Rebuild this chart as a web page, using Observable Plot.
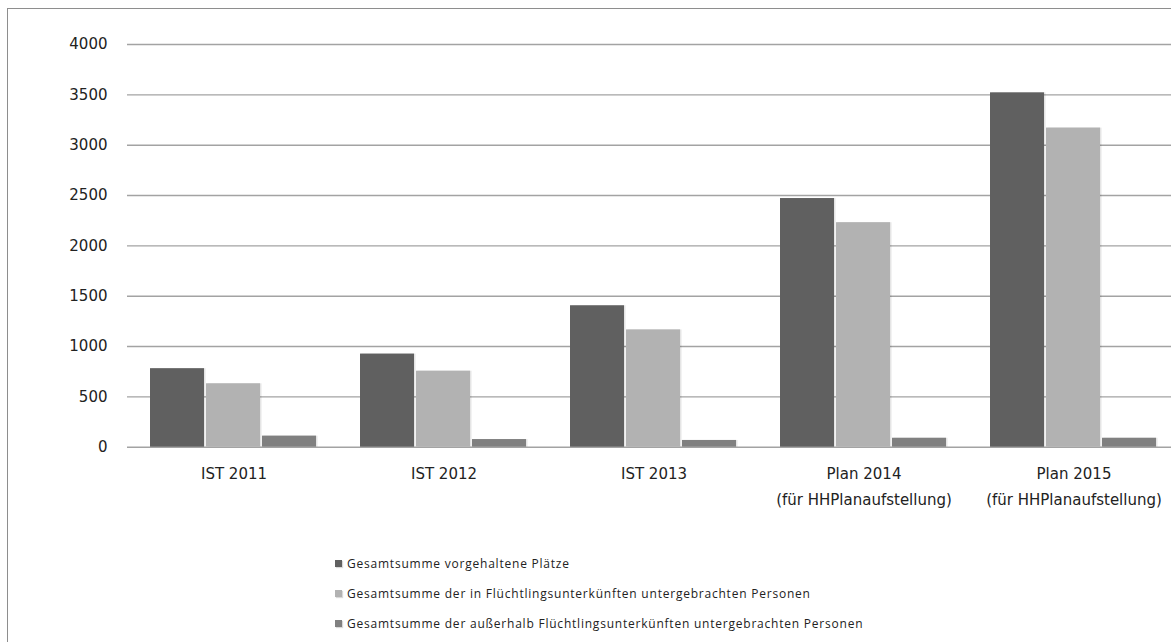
<!DOCTYPE html>
<html>
<head>
<meta charset="utf-8">
<script src="https://cdn.jsdelivr.net/npm/d3@7"></script>
<script src="https://cdn.jsdelivr.net/npm/@observablehq/plot@0.6"></script>
<style>
  body { margin: 0; background: #fff; }
  #wrap { position: relative; width: 1171px; height: 642px; overflow: hidden; background: #fff; }
  #frame { position: absolute; left: 7px; top: 8px; right: -5px; bottom: -5px; border-left: 1px solid #8e8e8e; border-top: 1px solid #8e8e8e; }
  #grid, #bars { position: absolute; left: 0; top: 0; }
  #legend { position: absolute; left: 335px; top: 548px; font-family: "Open Sans", sans-serif; font-size: 12px; letter-spacing: 0.78px; color: #222; }
  .item { height: 30px; display: flex; align-items: center; }
  .sw { width: 7px; height: 7px; margin-right: 5px; box-shadow: 1px 1px 1px rgba(0,0,0,0.15); }
</style>
</head>
<body>
<div id="wrap">
  <div id="frame"></div>
  <div id="grid"></div>
  <div id="bars"></div>
  <div id="legend"></div>
</div>
<script>
// ---- data ----
const categories = [
  "IST 2011",
  "IST 2012",
  "IST 2013",
  "Plan 2014\n(für HHPlanaufstellung)",
  "Plan 2015\n(für HHPlanaufstellung)"
];
const series = [
  "Gesamtsumme vorgehaltene Plätze",
  "Gesamtsumme der in Flüchtlingsunterkünften untergebrachten Personen",
  "Gesamtsumme der außerhalb Flüchtlingsunterkünften untergebrachten Personen"
];
const vorgehalten = [780, 925, 1405, 2470, 3520];
const innerhalb   = [630, 755, 1165, 2230, 3170];
const ausserhalb  = [110, 76, 67, 89, 89];
const yTicks = [0, 500, 1000, 1500, 2000, 2500, 3000, 3500, 4000];
const colors = ["#606060", "#b2b2b2", "#808080"];

const seriesValues = [vorgehalten, innerhalb, ausserhalb];
const rows = categories.flatMap((c, i) =>
  series.map((s, j) => ({ category: c, series: s, value: seriesValues[j][i] }))
);

const W = 1171, H = 540, zeroY = 446.7, topY = 44;

// ---- grid + y axis layer ----
const grid = Plot.plot({
  width: W, height: H,
  marginLeft: 127, marginRight: 0, marginTop: topY, marginBottom: H - zeroY,
  style: { background: "transparent", fontFamily: "DejaVu Sans", fontSize: "15px", color: "#222" },
  y: { domain: [0, 4000], ticks: yTicks, tickSize: 0, tickPadding: 20, tickFormat: d3.format("d"), label: null },
  marks: [
    Plot.ruleY(yTicks, { stroke: "#a3a3a3", strokeWidth: 1.4 })
  ]
});
document.getElementById("grid").appendChild(grid);

// ---- bars layer ----
const bars = Plot.plot({
  width: W, height: H,
  marginLeft: 128, marginRight: -7, marginTop: topY, marginBottom: H - zeroY,
  style: { background: "transparent", fontFamily: "DejaVu Sans", fontSize: "15px", color: "#222" },
  fx: { domain: categories, paddingInner: 0.205, paddingOuter: 0.1025, axis: null },
  x: { domain: series, paddingInner: 0.03, paddingOuter: 0, axis: null },
  y: { domain: [0, 4000], axis: null },
  color: { domain: series, range: colors },
  marks: [
    Plot.barY(rows, { fx: "category", x: "series", y: "value", fill: "#000", fillOpacity: 0.10, dx: 1.5 }),
    Plot.barY(rows, { fx: "category", x: "series", y: "value", fill: "series" }),
    Plot.text(categories, {
      fx: d => d, text: d => d, frameAnchor: "bottom", lineAnchor: "top",
      dy: 14, lineHeight: 1.7, fontSize: 15, fill: "#222"
    })
  ]
});
document.getElementById("bars").appendChild(bars);

// ---- legend ----
const legend = document.getElementById("legend");
series.forEach((s, j) => {
  const item = document.createElement("div");
  item.className = "item";
  const sw = document.createElement("span");
  sw.className = "sw";
  sw.style.background = colors[j];
  const t = document.createElement("span");
  t.textContent = s;
  item.appendChild(sw);
  item.appendChild(t);
  legend.appendChild(item);
});
</script>
</body>
</html>
